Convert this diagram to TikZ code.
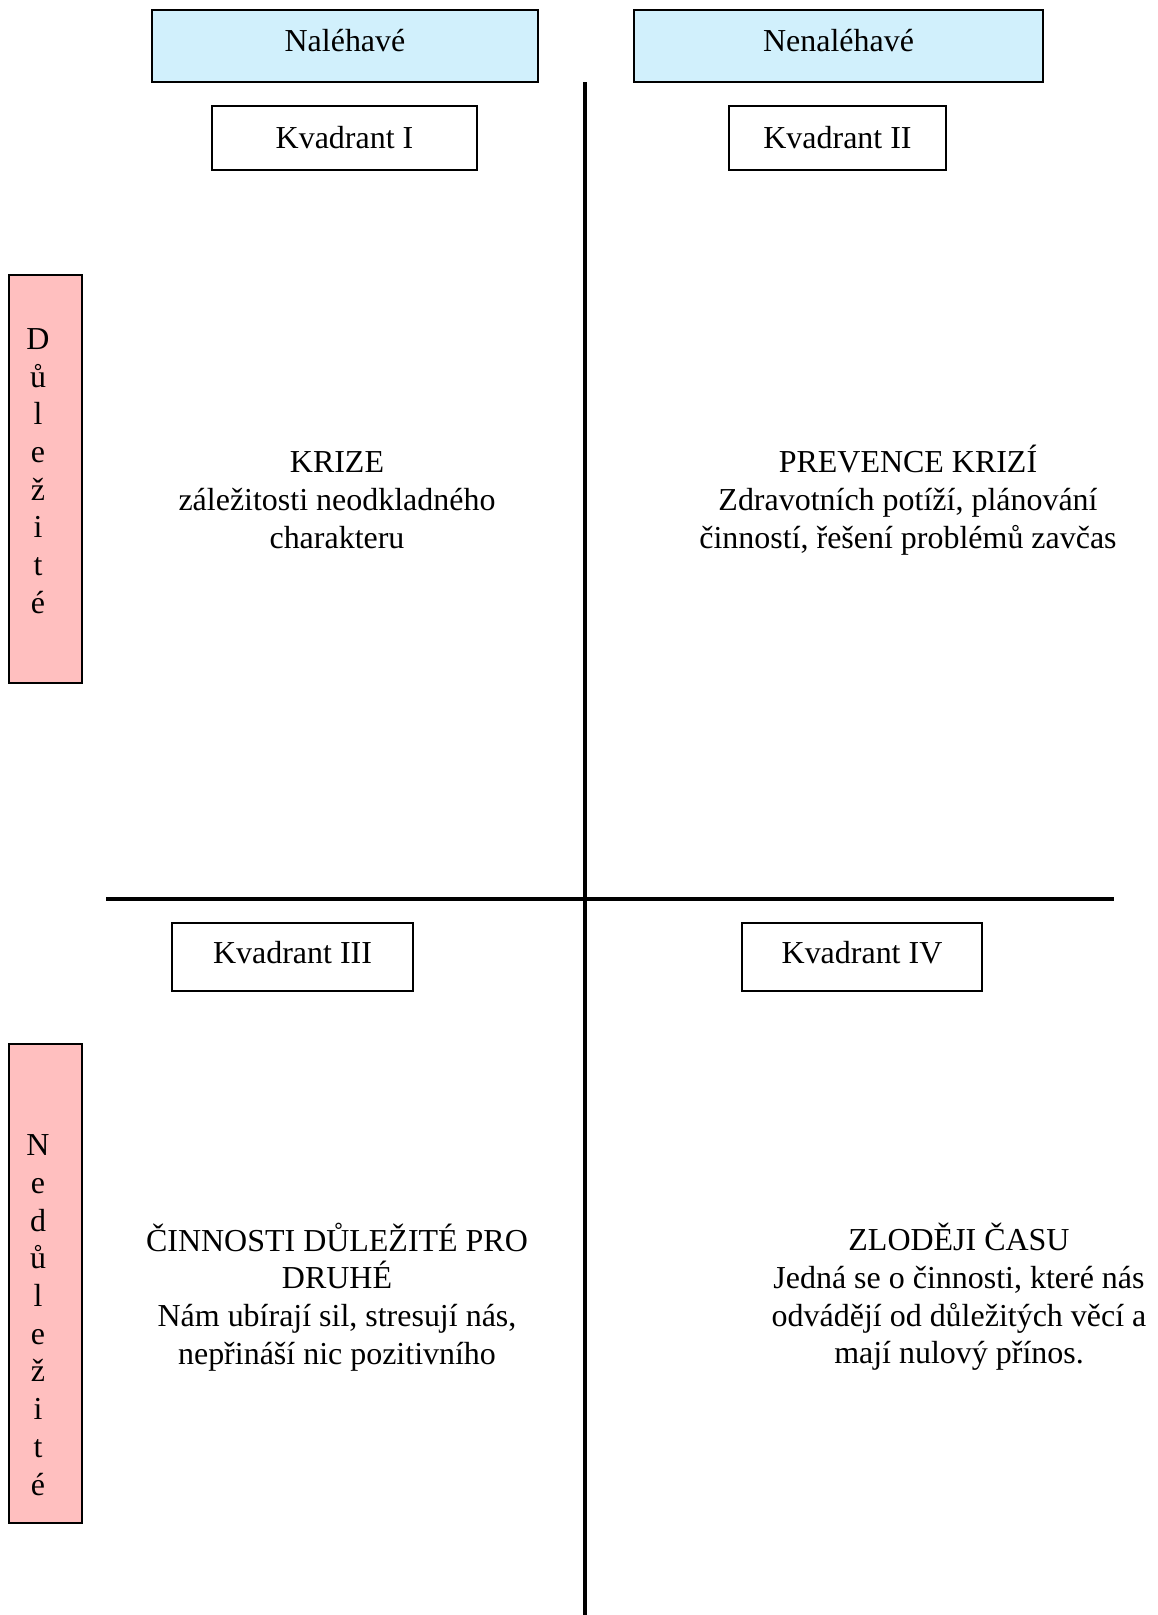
\documentclass[tikz,border=0pt]{standalone}
\usepackage{fontspec}
\setmainfont{Liberation Serif}
\usepackage{tikz}
\usetikzlibrary{calc}
\def\u{0.366pt}
\tikzset{every node/.style={font=\fontsize{11.7}{13.8}\selectfont},
  headbox/.style={draw,line width=0.9pt,fill=cyan!18,inner sep=0pt,minimum height=72*\u,text depth=4pt},
  quadbox/.style={draw,line width=0.7pt,inner sep=0pt},
  sidebox/.style={draw,line width=0.9pt,fill=red!25,inner sep=0pt,minimum width=73*\u},
  axis/.style={line width=1.45pt},
  quadtext/.style={align=center}}
\begin{document}
\begin{tikzpicture}[x=0.366pt,y=-0.366pt]
  \useasboundingbox (0,0) rectangle (1158,1615);
  % hlavicky
  \node[headbox,minimum width=386*\u] (nal) at (345,46) {Naléhavé};
  \node[headbox,minimum width=409*\u] (nenal) at (838.5,46) {Nenaléhavé};
  % osy
  \coordinate (top) at (585,82);
  \coordinate (bot) at (585,1615);
  \coordinate (left) at (106,899);
  \coordinate (right) at (1114,899);
  \draw[axis] (top) -- (bot);
  \draw[axis] (left) -- (right);
  % kvadranty
  \node[quadbox,minimum width=265*\u,minimum height=64*\u] (k1) at (344.5,138) {Kvadrant I};
  \node[quadbox,minimum width=217*\u,minimum height=64*\u] (k2) at (837.5,138) {Kvadrant II};
  \node[quadbox,minimum width=241*\u,minimum height=68*\u,text depth=3.5pt] (k3) at (292.5,957) {Kvadrant III};
  \node[quadbox,minimum width=240*\u,minimum height=68*\u,text depth=3.5pt] (k4) at (862,957) {Kvadrant IV};
  % bocni popisky
  \node[sidebox,minimum height=408*\u] (dul) at (45.5,479) {};
  \node[align=center] (dultext) at (38,471) {D\\ů\\l\\e\\ž\\i\\t\\é};
  \node[sidebox,minimum height=479*\u] (nedul) at (45.5,1283.5) {};
  \node[align=center] (nedultext) at (38,1315) {N\\e\\d\\ů\\l\\e\\ž\\i\\t\\é};
  % obsah
  \node[quadtext] (krize) at (337,500) {KRIZE\\záležitosti neodkladného\\charakteru};
  \node[quadtext] (prev) at (908,500) {PREVENCE KRIZÍ\\Zdravotních potíží, plánování\\činností, řešení problémů zavčas};
  \node[quadtext] (cinn) at (337,1297) {ČINNOSTI DŮLEŽITÉ PRO\\DRUHÉ\\Nám ubírají sil, stresují nás,\\nepřináší nic pozitivního};
  \node[quadtext] (zlod) at (959,1297) {ZLODĚJI ČASU\\Jedná se o činnosti, které nás\\odvádějí od důležitých věcí a\\mají nulový přínos.};
\end{tikzpicture}
\end{document}
